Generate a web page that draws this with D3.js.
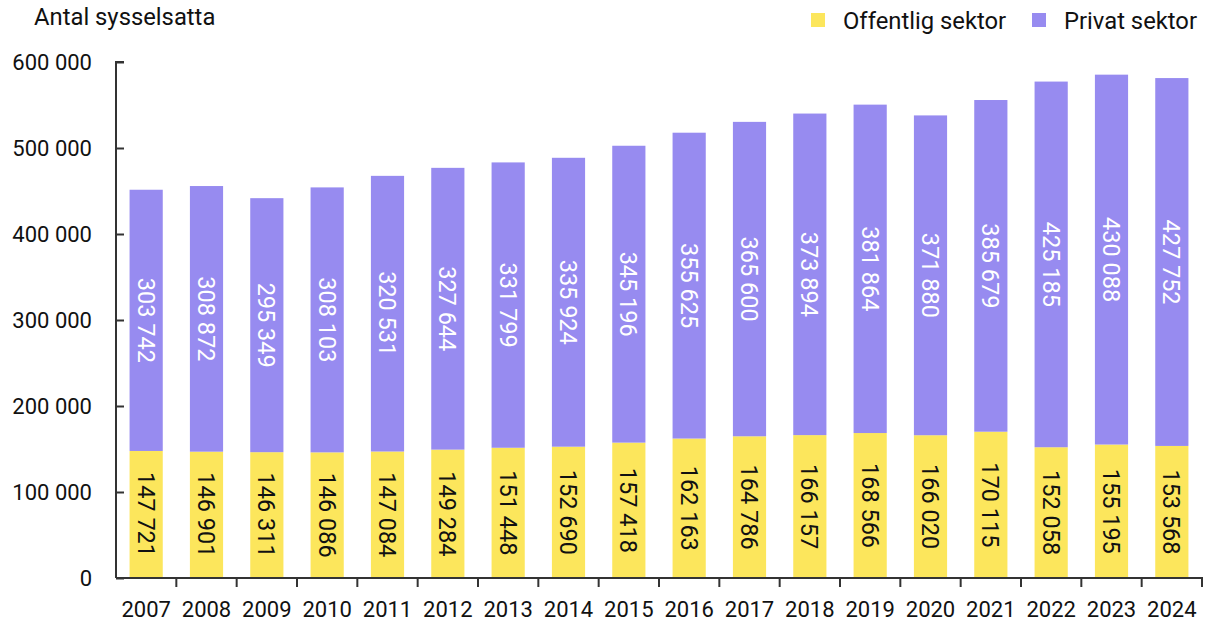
<!DOCTYPE html>
<html>
<head>
<meta charset="utf-8">
<script src="https://cdn.jsdelivr.net/npm/d3@7"></script>
<style>
  body { margin: 0; background: #fff; }
  svg { display: block; font-family: Roboto, sans-serif; }
  .axis text { font-size: 22px; fill: #111; }
  .axis path, .axis line { stroke: #333; stroke-width: 2; }
</style>
</head>
<body>
<script>
// SET UP DIMENSIONS
var w = 1212,
    h = 624;

var margin = { top: 62, right: 10, bottom: 46, left: 116 };

// data
var years = ['2007','2008','2009','2010','2011','2012','2013','2014','2015',
             '2016','2017','2018','2019','2020','2021','2022','2023','2024'];
var offentlig = [147721, 146901, 146311, 146086, 147084, 149284, 151448, 152690, 157418,
                 162163, 164786, 166157, 168566, 166020, 170115, 152058, 155195, 153568];
var privat = [303742, 308872, 295349, 308103, 320531, 327644, 331799, 335924, 345196,
              355625, 365600, 373894, 381864, 371880, 385679, 425185, 430088, 427752];
var yTicks = [0, 100000, 200000, 300000, 400000, 500000, 600000];
var seriesNames = ['Offentlig sektor', 'Privat sektor'];
var colors = ['#fce65c', '#978bf0'];

var fmt = function(v) { return d3.format(',')(v).replace(/,/g, ' '); };

var rows = years.map(function(y, i) {
  return { year: y, offentlig: offentlig[i], privat: privat[i] };
});

var svg = d3.select('body').append('svg')
  .attr('width', w)
  .attr('height', h);

var innerW = 1202 - margin.left,
    innerH = 578 - margin.top;

var g = svg.append('g')
  .attr('transform', translation(margin.left, margin.top));

// SCALES
var x = d3.scaleBand()
  .domain(years)
  .range([0, innerW])
  .paddingInner(0.45)
  .paddingOuter(0.225);

var xEdges = d3.scaleBand().domain(years).range([0, innerW]);

var y = d3.scaleLinear()
  .domain([0, 600000])
  .range([innerH, 0]);

var stack = d3.stack().keys(['offentlig', 'privat']);
var series = stack(rows);

// BARS
var layers = g.selectAll('.layer')
  .data(series)
  .enter().append('g')
    .attr('class', 'layer')
    .attr('fill', function(d, i) { return colors[i]; });

layers.selectAll('rect')
  .data(function(d) { return d; })
  .enter().append('rect')
    .attr('x', function(d) { return x(d.data.year); })
    .attr('y', function(d) { return y(d[1]); })
    .attr('width', x.bandwidth())
    .attr('height', function(d) { return y(d[0]) - y(d[1]); });

// VALUE LABELS, rotated inside the bars
series.forEach(function(s, si) {
  g.selectAll('.lbl' + si)
    .data(s)
    .enter().append('text')
      .attr('class', 'lbl' + si)
      .attr('transform', function(d) {
        var cx = x(d.data.year) + x.bandwidth() / 2;
        var cy = (y(d[0]) + y(d[1])) / 2;
        return translation(cx, cy) + ' rotate(90)';
      })
      .attr('text-anchor', 'middle')
      .attr('dy', '0.36em')
      .style('font-size', '23.5px')
      .attr('fill', si === 0 ? '#111' : '#fff')
      .text(function(d) { return fmt(d[1] - d[0]); });
});

// AXES
var yAxis = d3.axisRight(y)
  .tickValues(yTicks)
  .tickSize(8)
  .tickFormat(fmt);

var yAx = g.append('g')
  .attr('class', 'axis y')
  .call(yAxis)
  .attr('font-family', null)
  .attr('font-size', null);
yAx.select('.domain').attr('d', 'M8,0H0V' + innerH);
yAx.selectAll('text')
  .attr('x', -24)
  .attr('text-anchor', 'end');

var xAxis = d3.axisBottom(xEdges)
  .tickSize(8)
  .tickSizeOuter(0);

var xAx = g.append('g')
  .attr('class', 'axis x')
  .attr('transform', translation(0, innerH))
  .call(xAxis)
  .attr('font-family', null)
  .attr('font-size', null);
xAx.selectAll('.tick line')
  .attr('x1', xEdges.bandwidth() / 2)
  .attr('x2', xEdges.bandwidth() / 2)
  .attr('y2', 9);
xAx.selectAll('.tick text').attr('y', 23);
xAx.select('.domain').attr('d', 'M0,0H' + innerW + 'V9');

// TITLE
svg.append('text')
  .attr('x', 34)
  .attr('y', 25)
  .style('font-size', '23.8px')
  .attr('fill', '#111')
  .text('Antal sysselsatta');

// LEGEND
var legendX = [811, 1032];
var legend = svg.selectAll('.legend')
  .data(seriesNames)
  .enter().append('g')
    .attr('class', 'legend')
    .attr('transform', function(d, i) { return translation(legendX[i], 13); });

legend.append('rect')
  .attr('width', 14)
  .attr('height', 14)
  .attr('fill', function(d, i) { return colors[i]; });

legend.append('text')
  .attr('x', 32)
  .attr('y', 7)
  .attr('dy', '0.36em')
  .style('font-size', '23.8px')
  .attr('fill', '#111')
  .text(function(d) { return d; });

function translation(x, y) {
  return 'translate(' + x + ',' + y + ')';
}
</script>
</body>
</html>
